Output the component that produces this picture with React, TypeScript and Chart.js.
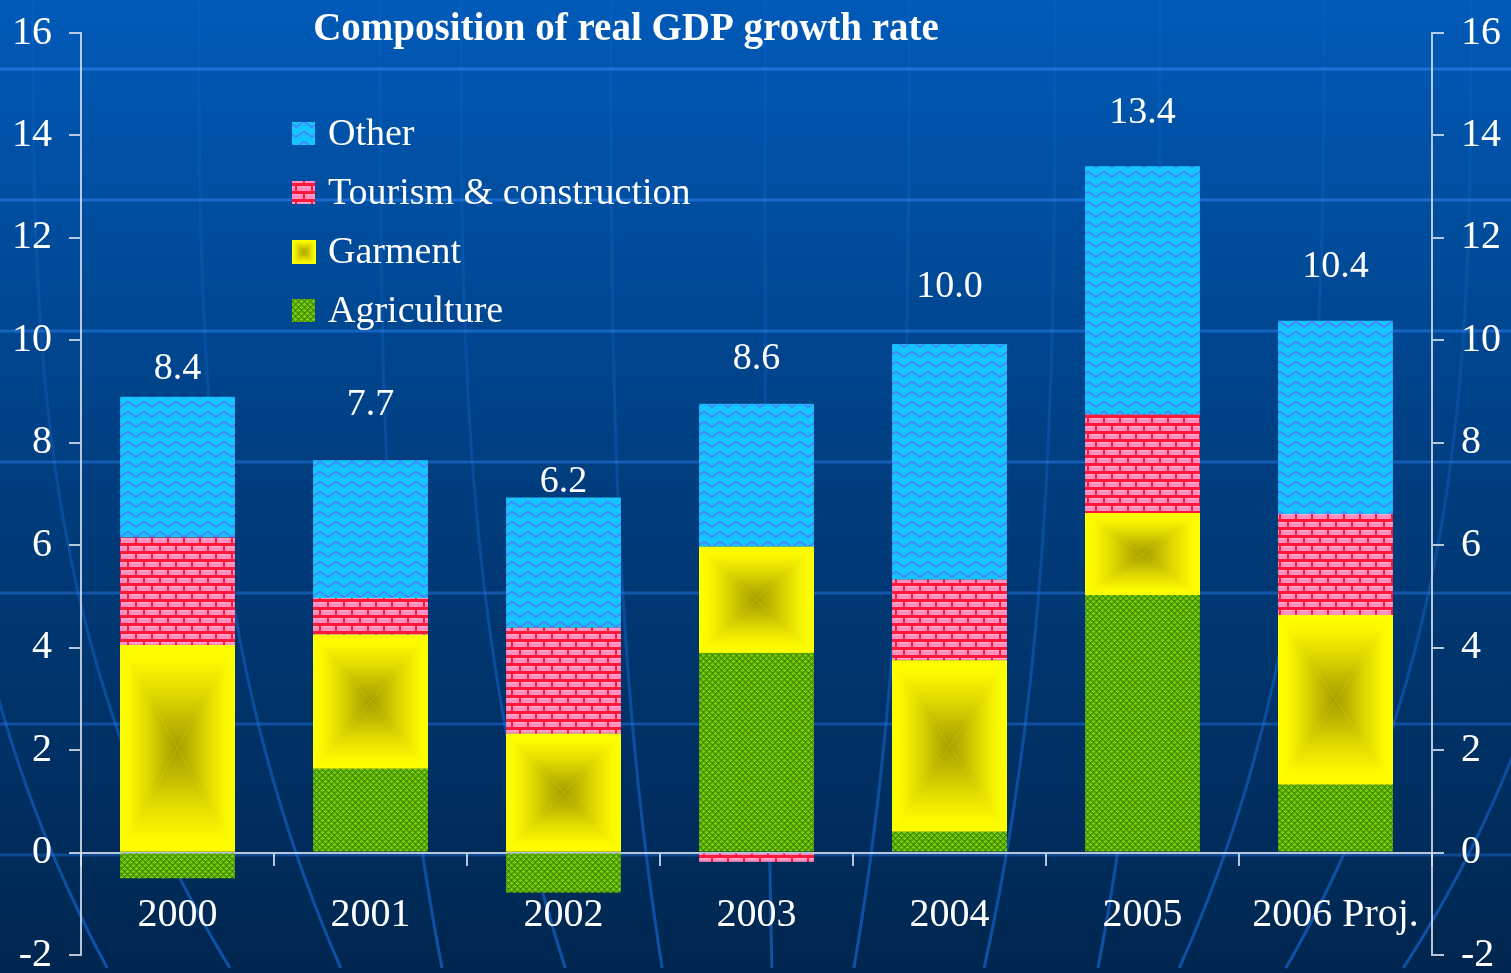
import React, { useEffect, useRef } from 'react';
import { Chart, registerables } from 'chart.js';

Chart.register(...registerables);

const categories = ['2000', '2001', '2002', '2003', '2004', '2005', '2006 Proj.'];
const agriculture = [-0.5, 1.64, -0.78, 3.9, 0.41, 5.03, 1.33];
const garment = [4.05, 2.61, 2.32, 2.07, 3.34, 1.6, 3.31];
const tourism = [2.1, 0.72, 2.07, -0.18, 1.58, 1.92, 1.97];
const other = [2.75, 2.69, 2.54, 2.79, 4.6, 4.85, 3.77];
const totals = [8.4, 7.7, 6.2, 8.6, 10.0, 13.4, 10.4];
const seriesNames = ['Agriculture', 'Garment', 'Tourism & construction', 'Other'];
const yMin = -2;
const yMax = 16;
const yStep = 2;
const titleText = 'Composition of real GDP growth rate';

const FONT = '"Liberation Serif", "Times New Roman", Times, serif';
const AXIS_COLOR = 'rgba(215,225,240,0.85)';

function makePattern(w: number, h: number, draw: (c: CanvasRenderingContext2D) => void) {
  const off = document.createElement('canvas');
  off.width = w;
  off.height = h;
  const c = off.getContext('2d')!;
  draw(c);
  return c.createPattern(off, 'repeat')!;
}

function drawPyramid(ctx: CanvasRenderingContext2D, l: number, t: number, r: number, b: number) {
  const cx = (l + r) / 2;
  const cy = (t + b) / 2;
  const stops: [number, string][] = [
    [0, '#ffff00'],
    [0.15, '#fcf900'],
    [0.45, '#e2dc00'],
    [0.75, '#c0b800'],
    [1, '#a89f00'],
  ];
  const tri = (pts: number[][], x0: number, y0: number, x1: number, y1: number) => {
    const g = ctx.createLinearGradient(x0, y0, x1, y1);
    stops.forEach(([o, c]) => g.addColorStop(o, c));
    ctx.beginPath();
    ctx.moveTo(pts[0][0], pts[0][1]);
    ctx.lineTo(pts[1][0], pts[1][1]);
    ctx.lineTo(pts[2][0], pts[2][1]);
    ctx.closePath();
    ctx.fillStyle = g;
    ctx.fill();
  };
  ctx.save();
  ctx.beginPath();
  ctx.rect(l, t, r - l, b - t);
  ctx.clip();
  ctx.fillStyle = '#ffff00';
  ctx.fillRect(l, t, r - l, b - t);
  tri([[l, t], [r, t], [cx, cy]], cx, t, cx, cy);
  tri([[l, b], [r, b], [cx, cy]], cx, b, cx, cy);
  tri([[l, t], [l, b], [cx, cy]], l, cy, cx, cy);
  tri([[r, t], [r, b], [cx, cy]], r, cy, cx, cy);
  ctx.restore();
}

export default function App() {
  const ref = useRef<HTMLCanvasElement | null>(null);

  useEffect(() => {
    const canvas = ref.current!;

    const agPattern = makePattern(6, 6, (c) => {
      c.fillStyle = '#4fa200';
      c.fillRect(0, 0, 6, 6);
      c.fillStyle = '#92d214';
      [[1, 0], [0, 1], [2, 1], [1, 2], [4, 3], [3, 4], [5, 4], [4, 5]].forEach(([x, y]) => c.fillRect(x, y, 1, 1));
      c.fillStyle = '#2f8400';
      [[4, 1], [1, 4], [4, 0], [1, 3]].forEach(([x, y]) => c.fillRect(x, y, 1, 1));
      c.fillStyle = '#70bc08';
      [[1, 1], [4, 4]].forEach(([x, y]) => c.fillRect(x, y, 1, 1));
    });

    const brickPattern = makePattern(16, 16, (c) => {
      c.fillStyle = '#ff1838';
      c.fillRect(0, 0, 16, 16);
      c.fillStyle = '#ff8fc0';
      c.fillRect(1, 2, 14, 5);
      c.fillRect(9, 10, 7, 5);
      c.fillRect(0, 10, 7, 5);
      c.fillStyle = '#ffa8d0';
      c.fillRect(1, 2, 14, 1);
      c.fillRect(9, 10, 7, 1);
      c.fillRect(0, 10, 7, 1);
    });

    const otherPattern = makePattern(16, 10, (c) => {
      c.fillStyle = '#14c8ff';
      c.fillRect(0, 0, 16, 10);
      c.strokeStyle = '#4288ff';
      c.lineWidth = 2;
      c.beginPath();
      c.moveTo(-1, 1);
      c.lineTo(8, 7);
      c.lineTo(17, 1);
      c.stroke();
      c.beginPath();
      c.moveTo(-1, 11);
      c.lineTo(0, 11.5);
      c.moveTo(15, 11.5);
      c.lineTo(17, 11);
      c.stroke();
      c.fillStyle = 'rgba(60,130,255,0.5)';
      [[3, 8], [12, 8], [8, 2], [0, 5], [15, 5]].forEach(([x, y]) => c.fillRect(x, y, 1, 1));
    });

    const fills = [agPattern, '#ffff00', brickPattern, otherPattern];

    const bgPlugin = {
      id: 'bg',
      beforeDraw(chart: any) {
        const { ctx, width, height } = chart;
        ctx.save();
        const g = ctx.createLinearGradient(0, 0, 0, height);
        g.addColorStop(0, '#005ab8');
        g.addColorStop(0.5, '#003d7e');
        g.addColorStop(1, '#00264f');
        ctx.fillStyle = g;
        ctx.fillRect(0, 0, width, height);
        // globe meridians
        const meridians = [
          [-67, 177], [33, 200], [199, 144], [380, 63], [461, 106], [611, 52], [765, 7],
          [909, -56], [1055, -72], [1160, -63], [1324, -147], [1471, -188], [1612, -212],
        ];
        const lg = ctx.createLinearGradient(0, 0, 0, height);
        lg.addColorStop(0, 'rgba(40,130,240,0.08)');
        lg.addColorStop(0.5, 'rgba(30,120,235,0.25)');
        lg.addColorStop(1, 'rgba(25,110,225,0.6)');
        ctx.strokeStyle = lg;
        ctx.lineWidth = 3;
        meridians.forEach(([x0, d]) => {
          ctx.beginPath();
          for (let y = 0; y <= height; y += 8) {
            const t = y / height;
            const x = x0 + d * t * t * t;
            if (y === 0) ctx.moveTo(x, y);
            else ctx.lineTo(x, y);
          }
          ctx.stroke();
        });
        // parallels
        const hg = ctx.createLinearGradient(0, 0, 0, height);
        hg.addColorStop(0, 'rgba(50,140,255,0.55)');
        hg.addColorStop(1, 'rgba(30,110,220,0.4)');
        ctx.strokeStyle = hg;
        ctx.lineWidth = 3;
        [69, 200, 331, 462, 593, 724, 855].forEach((y) => {
          ctx.beginPath();
          ctx.moveTo(0, y);
          ctx.lineTo(width, y);
          ctx.stroke();
        });
        ctx.restore();
      },
    };

    const garmentPlugin = {
      id: 'garmentGradient',
      afterDatasetsDraw(chart: any) {
        const meta = chart.getDatasetMeta(1);
        const ctx = chart.ctx;
        meta.data.forEach((el: any) => {
          const { x, y, base, width } = el.getProps(['x', 'y', 'base', 'width'], true);
          const top = Math.min(y, base);
          const bottom = Math.max(y, base);
          if (bottom - top < 1) return;
          drawPyramid(ctx, x - width / 2, top, x + width / 2, bottom);
        });
      },
    };

    const totalsPlugin = {
      id: 'totals',
      afterDatasetsDraw(chart: any) {
        const ctx = chart.ctx;
        const ys = chart.scales.y;
        const meta = chart.getDatasetMeta(0);
        ctx.save();
        ctx.fillStyle = '#ffffff';
        ctx.font = `38px ${FONT}`;
        ctx.textAlign = 'center';
        ctx.textBaseline = 'middle';
        totals.forEach((v, i) => {
          const x = meta.data[i].x;
          const y = ys.getPixelForValue(v) - 53;
          ctx.fillText(v.toFixed(1), x, y);
        });
        ctx.restore();
      },
    };

    const legendPlugin = {
      id: 'insideLegend',
      afterDraw(chart: any) {
        const ctx = chart.ctx;
        const left = 292;
        const top0 = 122;
        const gap = 59;
        const box = 23;
        ctx.save();
        ctx.font = `38px ${FONT}`;
        ctx.textAlign = 'left';
        ctx.textBaseline = 'alphabetic';
        const order = [3, 2, 1, 0];
        order.forEach((di, row) => {
          const top = top0 + row * gap;
          if (di === 1) {
            drawPyramid(ctx, left, top, left + box + 1, top + box + 1);
          } else {
            ctx.fillStyle = fills[di];
            ctx.fillRect(left, top, box, box);
          }
          ctx.fillStyle = '#ffffff';
          ctx.fillText(chart.data.datasets[di].label, 328, top + box);
        });
        ctx.restore();
      },
    };

    const titlePlugin = {
      id: 'customTitle',
      afterDraw(chart: any) {
        const ctx = chart.ctx;
        ctx.save();
        ctx.fillStyle = '#ffffff';
        ctx.font = `bold 39px ${FONT}`;
        ctx.textAlign = 'center';
        ctx.textBaseline = 'alphabetic';
        ctx.fillText(titleText, 626, 40);
        ctx.restore();
      },
    };

    const tickFont = { family: FONT, size: 40 };

    const chart = new Chart(canvas, {
      type: 'bar',
      data: {
        labels: categories,
        datasets: [
          { label: seriesNames[0], data: agriculture, backgroundColor: fills[0] as any },
          { label: seriesNames[1], data: garment, backgroundColor: fills[1] as any },
          { label: seriesNames[2], data: tourism, backgroundColor: fills[2] as any },
          { label: seriesNames[3], data: other, backgroundColor: fills[3] as any },
        ],
      },
      options: {
        animation: false,
        responsive: false,
        maintainAspectRatio: false,
        layout: { padding: { top: 33, bottom: 18, left: 0, right: 0 } },
        datasets: { bar: { barPercentage: 0.595, categoryPercentage: 1, borderWidth: 0 } },
        plugins: {
          legend: { display: false },
          title: { display: false },
          tooltip: { enabled: false },
        },
        scales: {
          x: {
            axis: 'x',
            stacked: true,
            position: { y: 0 } as any,
            grid: {
              offset: true,
              drawOnChartArea: false,
              drawTicks: true,
              tickLength: 12,
              color: AXIS_COLOR,
              lineWidth: 2,
            },
            border: { display: true, color: AXIS_COLOR, width: 2 },
            ticks: {
              color: '#ffffff',
              font: tickFont,
              padding: 27,
              maxRotation: 0,
              autoSkip: false,
            },
          },
          y: {
            stacked: true,
            position: 'left',
            min: yMin,
            max: yMax,
            ticks: { stepSize: yStep, color: '#ffffff', font: tickFont, padding: 17 },
            grid: { drawOnChartArea: false, drawTicks: true, tickLength: 12, color: AXIS_COLOR, lineWidth: 2 },
            border: { display: true, color: AXIS_COLOR, width: 2 },
            afterFit: (s: any) => {
              s.width = 81;
              s.paddingTop = 0;
              s.paddingBottom = 0;
            },
          },
          y1: {
            position: 'right',
            min: yMin,
            max: yMax,
            ticks: { stepSize: yStep, color: '#ffffff', font: tickFont, padding: 17 },
            grid: { drawOnChartArea: false, drawTicks: true, tickLength: 12, color: AXIS_COLOR, lineWidth: 2 },
            border: { display: true, color: AXIS_COLOR, width: 2 },
            afterFit: (s: any) => {
              s.width = 79;
              s.paddingTop = 0;
              s.paddingBottom = 0;
            },
          },
        },
      },
      plugins: [bgPlugin, garmentPlugin, totalsPlugin, legendPlugin, titlePlugin],
    });

    return () => chart.destroy();
  }, []);

  return (
    <div style={{ position: 'fixed', left: 0, top: 0, width: 1511, height: 973 }}>
      <canvas ref={ref} width={1511} height={973} style={{ display: 'block', width: 1511, height: 973 }} />
    </div>
  );
}
